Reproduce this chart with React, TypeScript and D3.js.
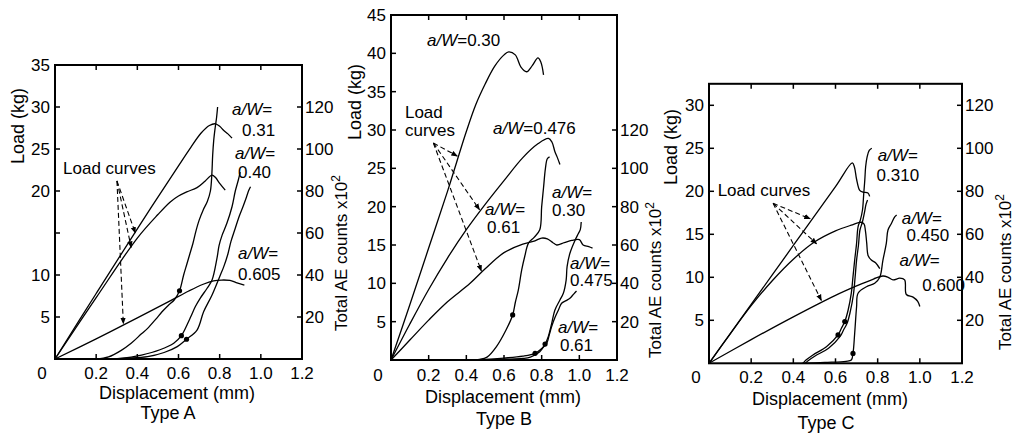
import { useEffect, useRef } from 'react';
import * as d3 from 'd3';

type Pt = [number, number];

// ---- Type A (load in kg, AE counts x10^2) ----
const loadA031: Pt[] = [[0, 0], [0.2, 7.8], [0.4, 15.5], [0.6, 23.0], [0.66, 25.2], [0.71, 26.9], [0.75, 27.8], [0.78, 28.0], [0.8, 27.7], [0.82, 27.2], [0.84, 26.8], [0.86, 26.3]];
const loadA040: Pt[] = [[0, 0], [0.2, 7.3], [0.4, 14.4], [0.5, 17.2], [0.56, 18.7], [0.6, 19.4], [0.64, 19.9], [0.69, 20.4], [0.73, 21.2], [0.763, 21.9], [0.78, 21.6], [0.8, 20.9], [0.827, 20.1]];
const loadA0605: Pt[] = [[0, 0], [0.2, 2.4], [0.4, 4.9], [0.55, 6.8], [0.65, 8.1], [0.72, 8.9], [0.77, 9.3], [0.81, 9.4], [0.85, 9.35], [0.88, 9.1], [0.92, 8.8]];
const aeA031: Pt[] = [[0.2, 0], [0.26, 1], [0.32, 4], [0.37, 7.5], [0.42, 12], [0.45, 14.6], [0.49, 19], [0.52, 22.5], [0.55, 25.5], [0.58, 28.2], [0.605, 32.5], [0.625, 40], [0.64, 45], [0.655, 50], [0.67, 55], [0.685, 61], [0.7, 66], [0.72, 71], [0.74, 75], [0.755, 80], [0.762, 88], [0.766, 97], [0.771, 104], [0.778, 110], [0.785, 115], [0.79, 120]];
const aeA040: Pt[] = [[0.25, 0], [0.32, 0.3], [0.42, 1.9], [0.51, 4.4], [0.577, 7.5], [0.614, 11.1], [0.645, 17], [0.66, 20.2], [0.682, 25], [0.706, 29], [0.739, 33.7], [0.763, 37.6], [0.787, 48], [0.797, 54], [0.812, 59], [0.835, 64.6], [0.86, 72.5], [0.876, 80], [0.89, 85], [0.9, 89]];
const aeA0605: Pt[] = [[0.2, 0], [0.3, 0.2], [0.35, 0.4], [0.45, 1.1], [0.53, 3.1], [0.594, 5.9], [0.639, 9.4], [0.69, 13.8], [0.722, 22.5], [0.763, 30.5], [0.8, 39.2], [0.82, 44], [0.84, 50], [0.855, 56], [0.875, 62], [0.895, 68], [0.915, 73], [0.93, 77], [0.94, 80], [0.95, 82]];
const dotsA: Pt[] = [[0.605, 32.5], [0.614, 11.1], [0.639, 9.4]];

// ---- Type B ----
const loadB030: Pt[] = [[0, 0], [0.1, 7.2], [0.2, 14.6], [0.3, 22.0], [0.4, 29.8], [0.45, 33.3], [0.5, 36.0], [0.55, 38.3], [0.6, 39.8], [0.625, 40.2], [0.66, 39.8], [0.69, 38.2], [0.72, 37.6], [0.75, 38.4], [0.78, 39.4], [0.795, 38.9], [0.81, 37.2]];
const loadB0476: Pt[] = [[0, 0], [0.1, 4.7], [0.2, 9.2], [0.3, 13.3], [0.4, 17.0], [0.5, 20.3], [0.6, 23.4], [0.7, 26.4], [0.78, 28.2], [0.836, 28.9], [0.855, 28.4], [0.87, 27.2], [0.885, 26.3], [0.897, 25.5]];
const loadB061: Pt[] = [[0, 0], [0.1, 2.6], [0.2, 5.2], [0.3, 7.6], [0.42, 10], [0.5, 11.9], [0.6, 14.0], [0.7, 15.1], [0.76, 15.5], [0.8, 15.9], [0.83, 15.8], [0.86, 15.3], [0.88, 15.0], [0.92, 15.3], [0.96, 15.6], [1.0, 15.7], [1.02, 15.0], [1.05, 14.8], [1.07, 14.6]];
const aeB030: Pt[] = [[0.42, 0], [0.47, 0.3], [0.51, 1.5], [0.56, 7], [0.61, 15.5], [0.646, 23.5], [0.66, 30], [0.676, 36.5], [0.694, 47], [0.71, 54], [0.73, 61], [0.76, 64], [0.79, 68], [0.8, 80], [0.81, 90], [0.82, 100], [0.83, 105], [0.842, 106]];
const aeB0475: Pt[] = [[0.45, 0], [0.6, 0.4], [0.7, 0.8], [0.74, 1.5], [0.79, 4.3], [0.818, 8.3], [0.835, 12.2], [0.853, 19], [0.87, 26], [0.897, 31.3], [0.915, 34.8], [0.93, 41.7], [0.935, 48.7], [0.95, 55.7], [0.975, 62], [0.995, 66], [1.005, 68], [1.01, 72]];
const aeB061: Pt[] = [[0.41, 0], [0.5, 0.3], [0.6, 1], [0.7, 2], [0.765, 3.5], [0.8, 6], [0.827, 8.7], [0.84, 13], [0.853, 17.4], [0.87, 22], [0.889, 26.1], [0.906, 29.6], [0.93, 31], [0.95, 32.2], [0.97, 34.4], [0.985, 36]];
const dotsB: Pt[] = [[0.646, 23.5], [0.818, 8.3], [0.765, 3.5]];

// ---- Type C ----
const loadC0310: Pt[] = [[0, 0], [0.2, 6.85], [0.4, 13.7], [0.6, 20.55], [0.68, 23.3], [0.69, 22.8], [0.7, 21.4], [0.715, 20.1], [0.73, 19.9], [0.754, 19.8], [0.762, 19.4]];
const loadC0450: Pt[] = [[0, 0], [0.1, 3.4], [0.2, 6.7], [0.3, 9.6], [0.4, 12.1], [0.5, 14.1], [0.6, 15.4], [0.68, 16.1], [0.72, 16.4], [0.735, 16.2], [0.742, 15.4], [0.748, 14], [0.755, 12.5], [0.77, 12], [0.79, 11.7], [0.81, 11]];
const loadC0600: Pt[] = [[0, 0], [0.2, 2.75], [0.4, 5.4], [0.6, 7.9], [0.7, 9.0], [0.78, 9.8], [0.825, 10.15], [0.85, 10.0], [0.873, 9.7], [0.905, 9.9], [0.928, 9.7], [0.936, 8.0], [0.968, 7.7], [0.99, 7.2], [1.0, 6.6]];
const aeC0310: Pt[] = [[0.446, 0], [0.46, 1.5], [0.493, 3.9], [0.557, 7.7], [0.612, 13.2], [0.628, 16.3], [0.644, 19.4], [0.66, 24.8], [0.675, 32.6], [0.683, 40.3], [0.691, 48], [0.7, 55.8], [0.707, 63.5], [0.718, 66.7], [0.728, 71.3], [0.734, 79], [0.739, 85.3], [0.743, 91.4], [0.75, 96], [0.76, 99], [0.772, 100]];
const aeC0600: Pt[] = [[0.456, 0], [0.47, 1.2], [0.503, 3.4], [0.567, 7.0], [0.622, 12.5], [0.638, 15.5], [0.655, 18.6], [0.67, 24], [0.685, 32], [0.693, 40], [0.7, 48], [0.709, 55], [0.716, 62], [0.727, 65.5], [0.737, 70], [0.745, 74], [0.752, 76]];
const aeC0450: Pt[] = [[0.44, 0], [0.55, 0.4], [0.65, 0.9], [0.675, 1.5], [0.683, 4.6], [0.691, 14], [0.7, 26.3], [0.707, 32.6], [0.747, 35.6], [0.786, 37.2], [0.81, 40], [0.825, 48], [0.841, 55.8], [0.849, 62], [0.865, 65], [0.88, 68], [0.89, 69]];
const dotsC: Pt[] = [[0.612, 13.2], [0.644, 19.4], [0.683, 4.6]];

const xTicks = [0.2, 0.4, 0.6, 0.8, 1.0];
const xTickLabels = ['0.2', '0.4', '0.6', '0.8', '1.0', '1.2'];
const aeTicks = [20, 40, 60, 80, 100, 120];

const FONT = '"Liberation Sans", Arial, sans-serif';

const panels = [
  {
    type: 'Type A',
    frame: { left: 55, top: 65, right: 302, bottom: 359 },
    yMax: 35,
    loadTicks: [5, 10, 15, 20, 25, 30, 35],
    loadLabels: [5, 10, 20, 25, 30, 35],
    loads: [loadA031, loadA040, loadA0605],
    aes: [aeA031, aeA040, aeA0605],
    dots: dotsA,
    notes: [
      { x: 0.86, y: 29.0, t: 'a/W=' }, { x: 0.909, y: 26.6, t: '0.31' },
      { x: 0.875, y: 23.8, t: 'a/W=' }, { x: 0.889, y: 21.6, t: '0.40' },
      { x: 0.889, y: 11.9, t: 'a/W=' }, { x: 0.889, y: 9.4, t: '0.605' },
      { x: 0.039, y: 22.0, t: 'Load curves' },
    ],
    arrowFrom: [0.301, 21.2] as Pt,
    arrowTo: [[0.39, 15.0], [0.37, 13.3], [0.332, 4.2]] as Pt[],
    tickDy: 20, titleX: 177, titleY: 399, typeX: 168, typeY: 419,
    leftLabel: { x: 24, y: 126 }, rightLabel: { x: 347, y: 253 },
  },
  {
    type: 'Type B',
    frame: { left: 391, top: 15, right: 617, bottom: 360 },
    yMax: 45,
    loadTicks: [5, 10, 15, 20, 25, 30, 35, 40, 45],
    loadLabels: [5, 10, 15, 20, 25, 30, 35, 40, 45],
    loads: [loadB030, loadB0476, loadB061],
    aes: [aeB030, aeB0475, aeB061],
    dots: dotsB,
    notes: [
      { x: 0.191, y: 41.0, t: 'a/W=0.30' },
      { x: 0.074, y: 31.6, t: 'Load' }, { x: 0.074, y: 29.2, t: 'curves' },
      { x: 0.542, y: 29.5, t: 'a/W=0.476' },
      { x: 0.855, y: 21.1, t: 'a/W=' }, { x: 0.855, y: 18.8, t: '0.30' },
      { x: 0.499, y: 18.9, t: 'a/W=' }, { x: 0.51, y: 16.6, t: '0.61' },
      { x: 0.951, y: 11.9, t: 'a/W=' }, { x: 0.951, y: 9.65, t: '0.475' },
      { x: 0.887, y: 3.5, t: 'a/W=' }, { x: 0.897, y: 1.2, t: '0.61' },
    ],
    arrowFrom: [0.225, 28.3] as Pt,
    arrowTo: [[0.352, 26.6], [0.47, 19.6], [0.48, 11.6]] as Pt[],
    tickDy: 21, titleX: 503, titleY: 403, typeX: 504, typeY: 425,
    leftLabel: { x: 361, y: 102 }, rightLabel: { x: 661, y: 280 },
  },
  {
    type: 'Type C',
    frame: { left: 709, top: 83.8, right: 962, bottom: 363.3 },
    yMax: 32.5,
    loadTicks: [5, 10, 15, 20, 25, 30],
    loadLabels: [5, 10, 15, 20, 25, 30],
    loads: [loadC0310, loadC0450, loadC0600],
    aes: [aeC0310, aeC0600, aeC0450],
    dots: dotsC,
    notes: [
      { x: 0.8, y: 23.5, t: 'a/W=' }, { x: 0.795, y: 21.2, t: '0.310' },
      { x: 0.041, y: 19.4, t: 'Load curves' },
      { x: 0.914, y: 16.2, t: 'a/W=' }, { x: 0.937, y: 14.2, t: '0.450' },
      { x: 0.904, y: 11.3, t: 'a/W=' }, { x: 1.012, y: 8.4, t: '0.600' },
    ],
    arrowFrom: [0.304, 18.6] as Pt,
    arrowTo: [[0.48, 16.8], [0.51, 13.9], [0.533, 7.3]] as Pt[],
    tickDy: 20, titleX: 830, titleY: 405, typeX: 826, typeY: 429,
    leftLabel: { x: 677, y: 147 }, rightLabel: { x: 1011, y: 272 },
  },
];

export default function App() {
  const svgRef = useRef<SVGSVGElement>(null);

  useEffect(() => {
    if (!svgRef.current) return;
    const svg = d3.select(svgRef.current);
    svg.selectAll('*').remove();

    svg.append('defs')
      .append('marker')
      .attr('id', 'head')
      .attr('viewBox', '0 0 10 10')
      .attr('refX', 9)
      .attr('refY', 5)
      .attr('markerWidth', 6)
      .attr('markerHeight', 6)
      .attr('orient', 'auto')
      .append('path')
      .attr('d', 'M0,1 L10,5 L0,9 Z')
      .attr('fill', '#000');

    panels.forEach((p) => {
      const { left, top, right, bottom } = p.frame;
      const x = d3.scaleLinear().domain([0, 1.2]).range([left, right]);
      const y = d3.scaleLinear().domain([0, p.yMax]).range([bottom, top]);
      const yAE = d3.scaleLinear().domain([0, p.yMax * 4]).range([bottom, top]);
      const g = svg.append('g').attr('font-family', FONT).attr('fill', '#000');

      // Frame
      g.append('rect')
        .attr('x', left).attr('y', top)
        .attr('width', right - left).attr('height', bottom - top)
        .attr('fill', 'none').attr('stroke', '#000').attr('stroke-width', 2);

      // Ticks (inward)
      xTicks.forEach((t) => {
        g.append('line').attr('x1', x(t)).attr('x2', x(t)).attr('y1', bottom).attr('y2', bottom - 5).attr('stroke', '#000').attr('stroke-width', 1.5);
        g.append('line').attr('x1', x(t)).attr('x2', x(t)).attr('y1', top).attr('y2', top + 5).attr('stroke', '#000').attr('stroke-width', 1.5);
      });
      p.loadTicks.forEach((t) => {
        g.append('line').attr('x1', left).attr('x2', left + 5).attr('y1', y(t)).attr('y2', y(t)).attr('stroke', '#000').attr('stroke-width', 1.5);
      });
      aeTicks.forEach((t) => {
        g.append('line').attr('x1', right - 5).attr('x2', right).attr('y1', yAE(t)).attr('y2', yAE(t)).attr('stroke', '#000').attr('stroke-width', 1.5);
      });

      // Tick labels
      g.selectAll('.xl').data(xTickLabels).join('text')
        .attr('x', (d) => x(+d)).attr('y', bottom + p.tickDy)
        .attr('text-anchor', 'middle').attr('font-size', 17).text((d) => d);
      g.append('text').attr('x', left - 13).attr('y', bottom + p.tickDy)
        .attr('text-anchor', 'middle').attr('font-size', 17).text('0');
      g.selectAll('.yl').data(p.loadLabels).join('text')
        .attr('x', left - 5).attr('y', (d) => y(d) + 6)
        .attr('text-anchor', 'end').attr('font-size', 17).text((d) => d);
      g.selectAll('.ael').data(aeTicks).join('text')
        .attr('x', right + 3).attr('y', (d) => yAE(d) + 6)
        .attr('text-anchor', 'start').attr('font-size', 17).text((d) => d);

      // Axis titles
      g.append('text').attr('x', p.titleX).attr('y', p.titleY)
        .attr('text-anchor', 'middle').attr('font-size', 18).text('Displacement (mm)');
      g.append('text').attr('x', p.typeX).attr('y', p.typeY)
        .attr('text-anchor', 'middle').attr('font-size', 18).text(p.type);
      g.append('text')
        .attr('transform', `translate(${p.leftLabel.x},${p.leftLabel.y}) rotate(-90)`)
        .attr('text-anchor', 'middle').attr('font-size', 18).text('Load (kg)');
      const rt = g.append('text')
        .attr('transform', `translate(${p.rightLabel.x},${p.rightLabel.y}) rotate(-90)`)
        .attr('text-anchor', 'middle').attr('font-size', 17);
      rt.append('tspan').text('Total AE counts x10');
      rt.append('tspan').attr('dy', -7).attr('font-size', 12).text('2');

      // Curves
      const loadLine = d3.line<Pt>().x((d) => x(d[0])).y((d) => y(d[1])).curve(d3.curveCatmullRom.alpha(0.5));
      const aeLine = d3.line<Pt>().x((d) => x(d[0])).y((d) => yAE(d[1])).curve(d3.curveCatmullRom.alpha(0.5));
      g.selectAll('.load').data(p.loads).join('path')
        .attr('d', (d) => loadLine(d)).attr('fill', 'none').attr('stroke', '#000').attr('stroke-width', 1.3);
      g.selectAll('.ae').data(p.aes).join('path')
        .attr('d', (d) => aeLine(d)).attr('fill', 'none').attr('stroke', '#000').attr('stroke-width', 1.3);
      g.selectAll('.dot').data(p.dots).join('circle')
        .attr('cx', (d) => x(d[0])).attr('cy', (d) => yAE(d[1])).attr('r', 2.6).attr('fill', '#000');

      // Dashed arrows to the load curves
      p.arrowTo.forEach((t) => {
        g.append('line')
          .attr('x1', x(p.arrowFrom[0])).attr('y1', y(p.arrowFrom[1]))
          .attr('x2', x(t[0])).attr('y2', y(t[1]))
          .attr('stroke', '#000').attr('stroke-width', 1.1)
          .attr('stroke-dasharray', '5,3')
          .attr('marker-end', 'url(#head)');
      });

      // Annotations
      p.notes.forEach((n) => {
        const txt = g.append('text').attr('x', x(n.x)).attr('y', y(n.y)).attr('font-size', 17);
        if (n.t.startsWith('a/W')) {
          txt.append('tspan').attr('font-style', 'italic').text('a/W');
          txt.append('tspan').text(n.t.slice(3));
        } else {
          txt.text(n.t);
        }
      });
    });
  }, []);

  return (
    <svg
      ref={svgRef}
      width={1014}
      height={437}
      style={{ position: 'absolute', left: 0, top: 0, background: '#fff' }}
    />
  );
}
